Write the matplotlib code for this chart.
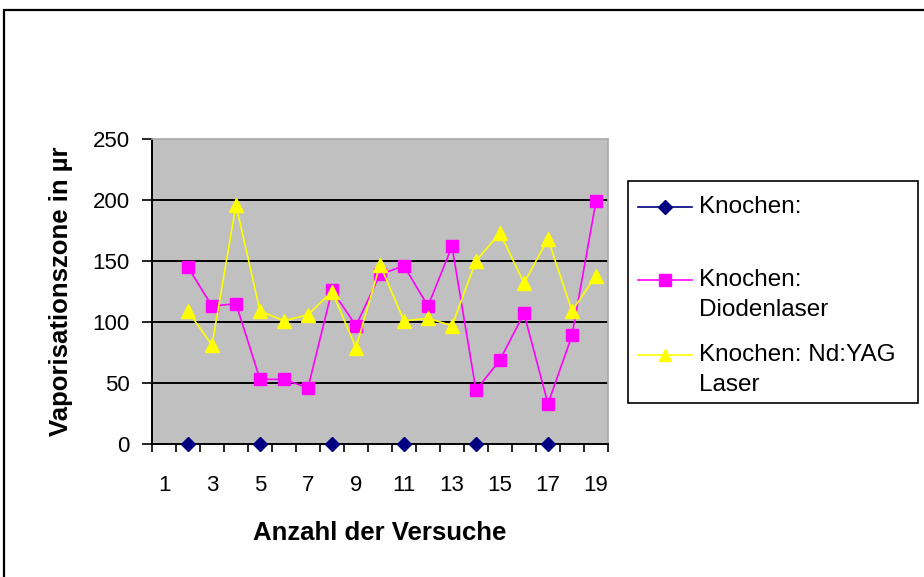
import numpy as np
import matplotlib.pyplot as plt
from matplotlib.lines import Line2D
from matplotlib.patches import Rectangle

plt.rcParams['font.family'] = ['Liberation Sans', 'DejaVu Sans']

# trial number 1..19
versuche = np.arange(1, 20)

# vaporisation zone per trial (NaN = not measured)
knochen = [np.nan, 0, np.nan, np.nan, 0, np.nan, np.nan, 0, np.nan, np.nan,
           0, np.nan, np.nan, 0, np.nan, np.nan, 0, np.nan, np.nan]
diodenlaser = [np.nan, 145, 113, 115, 53, 53, 46, 126, 97, 139,
               146, 113, 162, 44, 69, 107, 33, 89, 199]
ndyag = [np.nan, 109, 81, 196, 109, 101, 106, 125, 79, 147,
         101, 103, 97, 150, 173, 132, 168, 109, 138]

legend_labels = [['Knochen:'], ['Knochen:', 'Diodenlaser'], ['Knochen: Nd:YAG', 'Laser']]

W, H = 924, 577
fig = plt.figure(figsize=(W / 100, H / 100), dpi=100)

# outer chart frame (runs off the right/bottom edge)
fig.add_artist(Rectangle((4 / W, -0.1), 1.2, 1 - 10 / H + 0.1, transform=fig.transFigure,
                         fill=False, edgecolor='black', linewidth=1.6))

ax = fig.add_axes([152 / W, 1 - 444 / H, (608 - 152) / W, (444 - 139) / H])
ax.set_facecolor('#c0c0c0')

ax.set_xlim(0.5, 19.5)
ax.set_ylim(0, 250)
ax.set_yticks(np.arange(0, 251, 50))
for y in range(50, 250, 50):
    ax.axhline(y, color='black', linewidth=1.4, zorder=1)

ax.plot(versuche, knochen, color='#000080', marker='D', markersize=7,
        linewidth=1.2, zorder=5, clip_on=False)
ax.plot(versuche, diodenlaser, color='#ff00ff', marker='s', markersize=9,
        linewidth=1.2, zorder=3)
ax.plot(versuche, ndyag, color='#ffff00', marker='^', markersize=10,
        linewidth=1.2, zorder=4)

# category axis: ticks between categories, labels on odd trials
ax.set_xticks(np.arange(0.5, 19.6, 1))
ax.set_xticklabels([])
ax.set_xticks(versuche[::2], minor=True)
ax.set_xticklabels([str(v) for v in versuche[::2]], minor=True)
ax.tick_params(axis='x', which='major', direction='out', length=6, width=1.2)
ax.tick_params(axis='x', which='minor', length=0, pad=22, labelsize=16)
ax.tick_params(axis='y', direction='out', length=7, width=1.2, labelsize=16, pad=9)

for side in ['left', 'bottom']:
    ax.spines[side].set_linewidth(1.4)
for side in ['top', 'right']:
    ax.spines[side].set_color('#a8a8a8')
    ax.spines[side].set_linewidth(1.2)

ax.set_xlabel('Anzahl der Versuche', fontsize=18.5, fontweight='bold', labelpad=18)
ax.set_ylabel('Vaporisationszone in µr', fontsize=18.5, fontweight='bold', labelpad=14)

# legend box drawn by hand so handles line up with first text line
fig.add_artist(Rectangle((628 / W, 1 - 403 / H), 290 / W, 222 / H, transform=fig.transFigure,
                         fill=False, edgecolor='black', linewidth=1.2))
styles = [('#000080', 'D', 7), ('#ff00ff', 's', 8), ('#ffff00', '^', 9)]
rows = [207, 280, 355]
for (c, m, ms), y0, lines in zip(styles, rows, legend_labels):
    fig.add_artist(Line2D([638 / W, 692 / W], [1 - y0 / H] * 2, color=c, linewidth=1.2,
                          transform=fig.transFigure))
    fig.add_artist(Line2D([665 / W], [1 - y0 / H], color=c, marker=m, markersize=ms,
                          transform=fig.transFigure))
    for k, t in enumerate(lines):
        fig.text(699 / W, 1 - (y0 + k * 30) / H, t, fontsize=17.5, va='center', ha='left')

fig.savefig('out.png', dpi=100)
